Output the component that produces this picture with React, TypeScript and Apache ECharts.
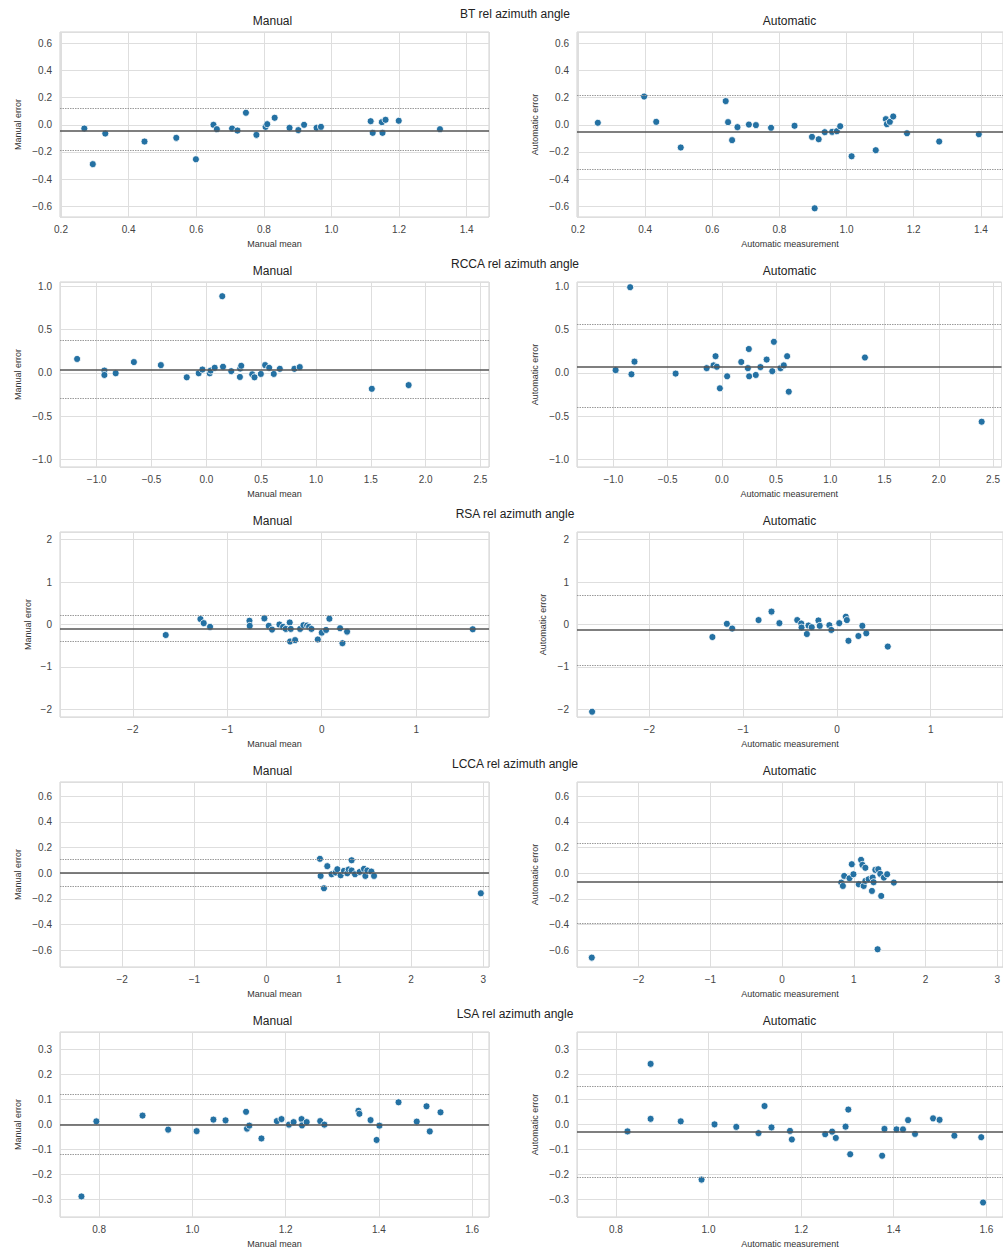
import React, { useEffect, useRef } from "react";
import * as echarts from "echarts";

// ---- Row titles and axis setup ----
const rowTitles = ["BT rel azimuth angle", "RCCA rel azimuth angle", "RSA rel azimuth angle", "LCCA rel azimuth angle", "LSA rel azimuth angle"];
const xMin = [0.197, -1.335, -2.77, -2.86, 0.716];
const xMax = [1.466, 2.578, 1.77, 3.08, 1.636];
const xStep = [0.2, 0.5, 1, 1, 0.2];
const yMin = [-0.68, -1.087, -2.18, -0.73, -0.369];
const yMax = [0.685, 1.05, 2.18, 0.71, 0.368];
const yStep = [0.2, 0.5, 1, 0.2, 0.1];

// ---- Data: [mean, error] ----
const btManual = [[0.269,-0.027],[0.294,-0.29],[0.331,-0.064],[0.447,-0.123],[0.541,-0.096],[0.599,-0.254],[0.651,0.0],[0.661,-0.032],[0.706,-0.027],[0.722,-0.042],[0.747,0.089],[0.778,-0.074],[0.805,-0.015],[0.81,0.005],[0.832,0.052],[0.876,-0.022],[0.902,-0.039],[0.919,0.0],[0.956,-0.022],[0.969,-0.015],[1.116,0.027],[1.122,-0.059],[1.149,0.02],[1.151,-0.059],[1.16,0.037],[1.199,0.03],[1.321,-0.032]];
const btAuto = [[0.259,0.015],[0.397,0.209],[0.433,0.022],[0.506,-0.167],[0.64,0.175],[0.647,0.02],[0.659,-0.113],[0.675,-0.017],[0.709,0.002],[0.73,-0.002],[0.775,-0.022],[0.845,-0.007],[0.897,-0.089],[0.917,-0.106],[0.905,-0.616],[0.935,-0.054],[0.957,-0.052],[0.971,-0.047],[0.981,-0.01],[1.015,-0.232],[1.087,-0.187],[1.117,0.042],[1.12,0.005],[1.129,0.022],[1.139,0.062],[1.18,-0.062],[1.276,-0.123],[1.394,-0.069]];
const rccaManual = [[-1.179,0.161],[-0.93,0.027],[-0.93,-0.024],[-0.827,-0.004],[-0.661,0.125],[-0.415,0.09],[-0.179,-0.051],[-0.07,-0.004],[-0.036,0.039],[0.03,-0.004],[0.039,0.027],[0.076,0.059],[0.145,0.886],[0.152,0.071],[0.227,0.02],[0.306,-0.047],[0.309,0.051],[0.318,0.082],[0.418,-0.016],[0.439,-0.051],[0.497,-0.012],[0.536,0.09],[0.573,0.059],[0.615,-0.012],[0.67,0.047],[0.803,0.047],[0.852,0.067],[1.509,-0.184],[1.845,-0.141]];
const rccaAuto = [[-0.979,0.032],[-0.845,0.99],[-0.833,-0.016],[-0.805,0.13],[-0.426,-0.008],[-0.14,0.055],[-0.076,0.087],[-0.058,0.193],[-0.046,0.071],[-0.018,-0.178],[0.049,-0.039],[0.179,0.126],[0.24,0.055],[0.249,0.276],[0.252,-0.039],[0.313,-0.024],[0.356,0.067],[0.413,0.154],[0.465,0.02],[0.48,0.359],[0.541,0.055],[0.571,0.087],[0.602,0.193],[0.617,-0.217],[1.319,0.178],[2.395,-0.564]];
const rsaManual = [[-1.651,-0.248],[-1.284,0.128],[-1.249,0.032],[-1.182,-0.056],[-0.765,0.088],[-0.762,-0.032],[-0.607,0.144],[-0.561,-0.032],[-0.526,-0.12],[-0.448,0.0],[-0.409,-0.056],[-0.381,-0.104],[-0.339,0.048],[-0.335,-0.4],[-0.328,-0.104],[-0.282,-0.368],[-0.229,-0.104],[-0.194,-0.016],[-0.155,-0.024],[-0.134,-0.056],[-0.109,-0.104],[-0.042,-0.352],[0.0,-0.192],[0.046,-0.128],[0.081,0.136],[0.194,-0.088],[0.219,-0.44],[0.268,-0.168],[1.598,-0.112]];
const rsaAuto = [[-2.609,-2.056],[-1.327,-0.296],[-1.173,0.016],[-1.116,-0.096],[-0.835,0.104],[-0.697,0.304],[-0.613,0.032],[-0.423,0.104],[-0.38,0.024],[-0.377,-0.072],[-0.32,-0.224],[-0.303,-0.024],[-0.268,-0.064],[-0.197,0.096],[-0.183,-0.032],[-0.081,-0.016],[-0.06,-0.128],[0.025,0.032],[0.095,0.184],[0.106,0.104],[0.123,-0.384],[0.229,-0.272],[0.271,-0.032],[0.313,-0.208],[0.542,-0.52]];
const lccaManual = [[0.739,0.112],[0.749,-0.021],[0.795,-0.117],[0.841,0.055],[0.901,-0.008],[0.957,0.005],[0.98,0.031],[1.026,-0.016],[1.072,0.018],[1.118,0.0],[1.137,0.029],[1.178,0.101],[1.178,0.021],[1.225,-0.008],[1.289,0.01],[1.349,0.034],[1.368,-0.021],[1.396,0.021],[1.451,0.013],[1.488,-0.021],[2.967,-0.156]];
const lccaAuto = [[-2.654,-0.657],[1.332,-0.592],[0.825,-0.073],[0.848,-0.099],[0.866,-0.021],[0.94,-0.039],[0.972,0.07],[0.995,-0.008],[1.069,-0.086],[1.101,0.104],[1.12,0.065],[1.138,-0.099],[1.161,0.042],[1.161,-0.06],[1.207,-0.047],[1.253,-0.138],[1.263,-0.034],[1.276,-0.07],[1.3,0.026],[1.341,0.031],[1.369,-0.005],[1.382,-0.177],[1.419,-0.034],[1.465,-0.008],[1.558,-0.073]];
const lsaManual = [[0.762,-0.287],[0.794,0.012],[0.893,0.035],[0.948,-0.021],[1.009,-0.027],[1.045,0.019],[1.071,0.016],[1.115,0.05],[1.117,-0.017],[1.122,-0.005],[1.148,-0.056],[1.181,0.013],[1.191,0.021],[1.207,-0.001],[1.217,0.009],[1.234,0.021],[1.235,-0.004],[1.245,0.009],[1.274,0.013],[1.283,-0.001],[1.356,0.054],[1.358,0.042],[1.382,0.017],[1.395,-0.062],[1.401,-0.005],[1.442,0.088],[1.481,0.011],[1.502,0.072],[1.509,-0.028],[1.532,0.048]];
const lsaAuto = [[0.825,-0.028],[0.875,0.241],[0.875,0.022],[0.94,0.012],[0.985,-0.22],[1.013,0.0],[1.06,-0.01],[1.108,-0.035],[1.121,0.073],[1.136,-0.012],[1.176,-0.026],[1.18,-0.06],[1.252,-0.039],[1.267,-0.029],[1.275,-0.054],[1.296,-0.009],[1.302,0.059],[1.306,-0.119],[1.375,-0.125],[1.38,-0.018],[1.406,-0.02],[1.42,-0.02],[1.431,0.017],[1.446,-0.038],[1.485,0.024],[1.499,0.018],[1.531,-0.045],[1.589,-0.051],[1.593,-0.311]];

// panels in order: row0 manual, row0 auto, row1 manual, ...
const panelData = [btManual, btAuto, rccaManual, rccaAuto, rsaManual, rsaAuto, lccaManual, lccaAuto, lsaManual, lsaAuto];
const meanLine = [-0.037, -0.049, 0.043, 0.075, -0.096, -0.128, 0.0, -0.073, 0.0, -0.028];
const upperLoA = [0.116, 0.219, 0.376, 0.556, 0.208, 0.696, 0.106, 0.234, 0.121, 0.149];
const lowerLoA = [-0.19, -0.328, -0.29, -0.398, -0.392, -0.96, -0.096, -0.39, -0.121, -0.206];

const colTitles = ["Manual", "Automatic"];
const xNames = ["Manual mean", "Automatic measurement"];
const yNames = ["Manual error", "Automatic error"];

const FONT = "'Liberation Sans', Arial, sans-serif";

function fmt(step: number) {
  const dec = step < 1 ? 1 : 0;
  return (v: number) => {
    const s = (Math.abs(v) < 1e-9 ? 0 : v).toFixed(dec);
    return s.replace("-", "\u2212");
  };
}

export default function App() {
  const ref = useRef<HTMLDivElement>(null);
  useEffect(() => {
    if (!ref.current) return;
    const chart = echarts.init(ref.current, null, { renderer: "svg" });
    const grids: any[] = [];
    const xAxes: any[] = [];
    const yAxes: any[] = [];
    const series: any[] = [];
    const graphics: any[] = [];
    const lefts = [60, 577];
    const W = 429;
    const H = 185;
    for (let r = 0; r < 5; r++) {
      const top = 32 + 250 * r;
      graphics.push({
        type: "text",
        x: 515,
        y: top - 18,
        style: { text: rowTitles[r], font: `12px ${FONT}`, fill: "#222", align: "center", verticalAlign: "middle" },
      });
      for (let c = 0; c < 2; c++) {
        const i = r * 2 + c;
        grids.push({ left: lefts[c], top, width: W, height: H, show: true, borderColor: "#d0d0d0", borderWidth: 1, backgroundColor: "transparent" });
        graphics.push({
          type: "text",
          x: lefts[c] + W / 2 - 2,
          y: top - 11,
          style: { text: colTitles[c], font: `12px ${FONT}`, fill: "#222", align: "center", verticalAlign: "middle" },
        });
        xAxes.push({
          type: "value",
          gridIndex: i,
          min: xMin[r],
          max: xMax[r],
          minInterval: xStep[r],
          maxInterval: xStep[r],
          name: xNames[c],
          nameLocation: "middle",
          nameGap: 22,
          nameTextStyle: { fontSize: 9, color: "#333", fontFamily: FONT },
          axisLine: { show: false },
          axisTick: { show: false },
          axisLabel: { showMinLabel: false, showMaxLabel: false, formatter: fmt(xStep[r]), fontSize: 10, color: "#444", margin: 7, fontFamily: FONT },
          splitLine: { show: true, lineStyle: { color: "#dedede", width: 1 } },
        });
        const yGap = r === 2 ? (c === 0 ? 28 : 30) : 38;
        yAxes.push({
          type: "value",
          gridIndex: i,
          min: yMin[r],
          max: yMax[r],
          minInterval: yStep[r],
          maxInterval: yStep[r],
          name: yNames[c],
          nameLocation: "middle",
          nameRotate: 90,
          nameGap: yGap,
          nameTextStyle: { fontSize: 9, color: "#333", fontFamily: FONT },
          axisLine: { show: false },
          axisTick: { show: false },
          axisLabel: { showMinLabel: false, showMaxLabel: false, formatter: fmt(yStep[r]), fontSize: 10, color: "#444", margin: 8, fontFamily: FONT },
          splitLine: { show: true, lineStyle: { color: "#dedede", width: 1 } },
        });
        series.push({
          type: "scatter",
          xAxisIndex: i,
          yAxisIndex: i,
          data: panelData[i],
          symbolSize: 7,
          itemStyle: { color: "#2471a3", borderColor: "#ffffff", borderWidth: 0.8, opacity: 1 },
          markLine: {
            silent: true,
            symbol: ["none", "none"],
            label: { show: false },
            animation: false,
            data: [
              { yAxis: meanLine[i], lineStyle: { type: "solid", color: "#555", width: 1.5 } },
              { yAxis: upperLoA[i], lineStyle: { type: [1.5, 1], color: "#9a9a9a", width: 1.2 } },
              { yAxis: lowerLoA[i], lineStyle: { type: [1.5, 1], color: "#9a9a9a", width: 1.2 } },
            ],
          },
        });
      }
    }
    chart.setOption({
      animation: false,
      backgroundColor: "#ffffff",
      textStyle: { fontFamily: FONT },
      grid: grids,
      xAxis: xAxes,
      yAxis: yAxes,
      series,
      graphic: graphics,
    });
    return () => chart.dispose();
  }, []);
  return <div ref={ref} style={{ position: "fixed", left: 0, top: 0, width: 1003, height: 1255 }} />;
}
